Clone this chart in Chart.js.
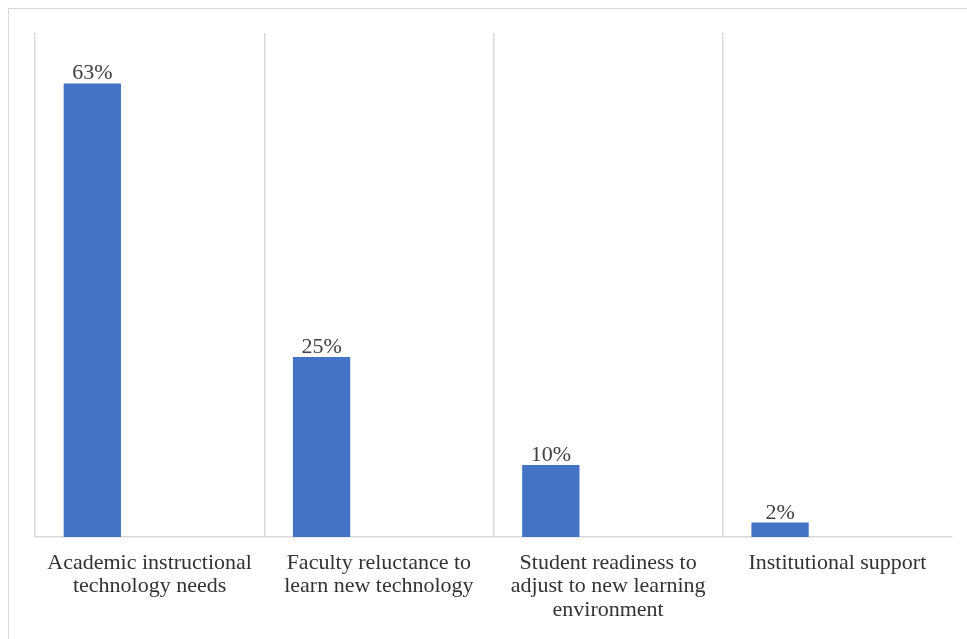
<!DOCTYPE html>
<html>
<head>
<meta charset="utf-8">
<script src="https://cdn.jsdelivr.net/npm/chart.js@4/dist/chart.umd.min.js"></script>
<style>
  html, body { margin: 0; padding: 0; background: #fff; }
  #wrap { width: 967px; height: 639px; position: relative; }
</style>
</head>
<body>
<div id="wrap"><canvas id="c" width="967" height="639"></canvas></div>
<script>
const categories = [
  ["Academic instructional", "technology needs"],
  ["Faculty reluctance to", "learn new technology"],
  ["Student readiness to", "adjust to new learning", "environment"],
  ["Institutional support"]
];
const percentValues = [63, 25, 10, 2];
const emptySeries = [null, null, null, null];
const yMax = 70;

const FONT = "'Liberation Serif', 'Times New Roman', serif";

const frame = {
  id: 'frame',
  beforeDraw(chart) {
    const ctx = chart.ctx;
    ctx.save();
    ctx.fillStyle = '#ffffff';
    ctx.fillRect(0, 0, chart.width, chart.height);
    ctx.strokeStyle = '#d9d9d9';
    ctx.lineWidth = 1;
    ctx.strokeRect(8.5, 8.5, 1200, 1200);
    ctx.restore();
  }
};

const valueLabels = {
  id: 'valueLabels',
  afterDatasetsDraw(chart) {
    const ctx = chart.ctx;
    const meta = chart.getDatasetMeta(0);
    ctx.save();
    ctx.font = "22px " + FONT;
    ctx.fillStyle = '#404040';
    ctx.textAlign = 'center';
    ctx.textBaseline = 'alphabetic';
    meta.data.forEach((bar, i) => {
      const v = chart.data.datasets[0].data[i];
      if (v == null) return;
      ctx.fillText(v + '%', bar.x, bar.y - 4);
    });
    ctx.restore();
  }
};

new Chart(document.getElementById('c'), {
  type: 'bar',
  data: {
    labels: categories,
    datasets: [
      { data: percentValues, backgroundColor: '#4472C4', borderWidth: 0 },
      { data: emptySeries, backgroundColor: '#ED7D31', borderWidth: 0 }
    ]
  },
  options: {
    responsive: false,
    animation: false,
    devicePixelRatio: 1,
    layout: { padding: { left: 35, right: 15, top: 33, bottom: 0 } },
    plugins: { legend: { display: false }, tooltip: { enabled: false } },
    datasets: { bar: { categoryPercentage: 1.0, barPercentage: 0.5 } },
    scales: {
      x: {
        afterFit(scale) { scale.height = 102; },
        grid: {
          display: true,
          drawTicks: false,
          lineWidth: 1.5,
          color: (ctx) => (ctx.type !== 'tick' ? 'rgba(0,0,0,0)' : '#d9d9d9')
        },
        border: { display: true, color: '#d9d9d9', width: 1.5 },
        ticks: {
          color: '#333333',
          padding: 14,
          maxRotation: 0,
          autoSkip: false,
          font: { family: FONT, size: 22, lineHeight: '23.5px' }
        }
      },
      y: {
        display: false,
        min: 0,
        max: yMax,
        grid: { display: false }
      }
    }
  },
  plugins: [frame, valueLabels]
});
</script>
</body>
</html>
